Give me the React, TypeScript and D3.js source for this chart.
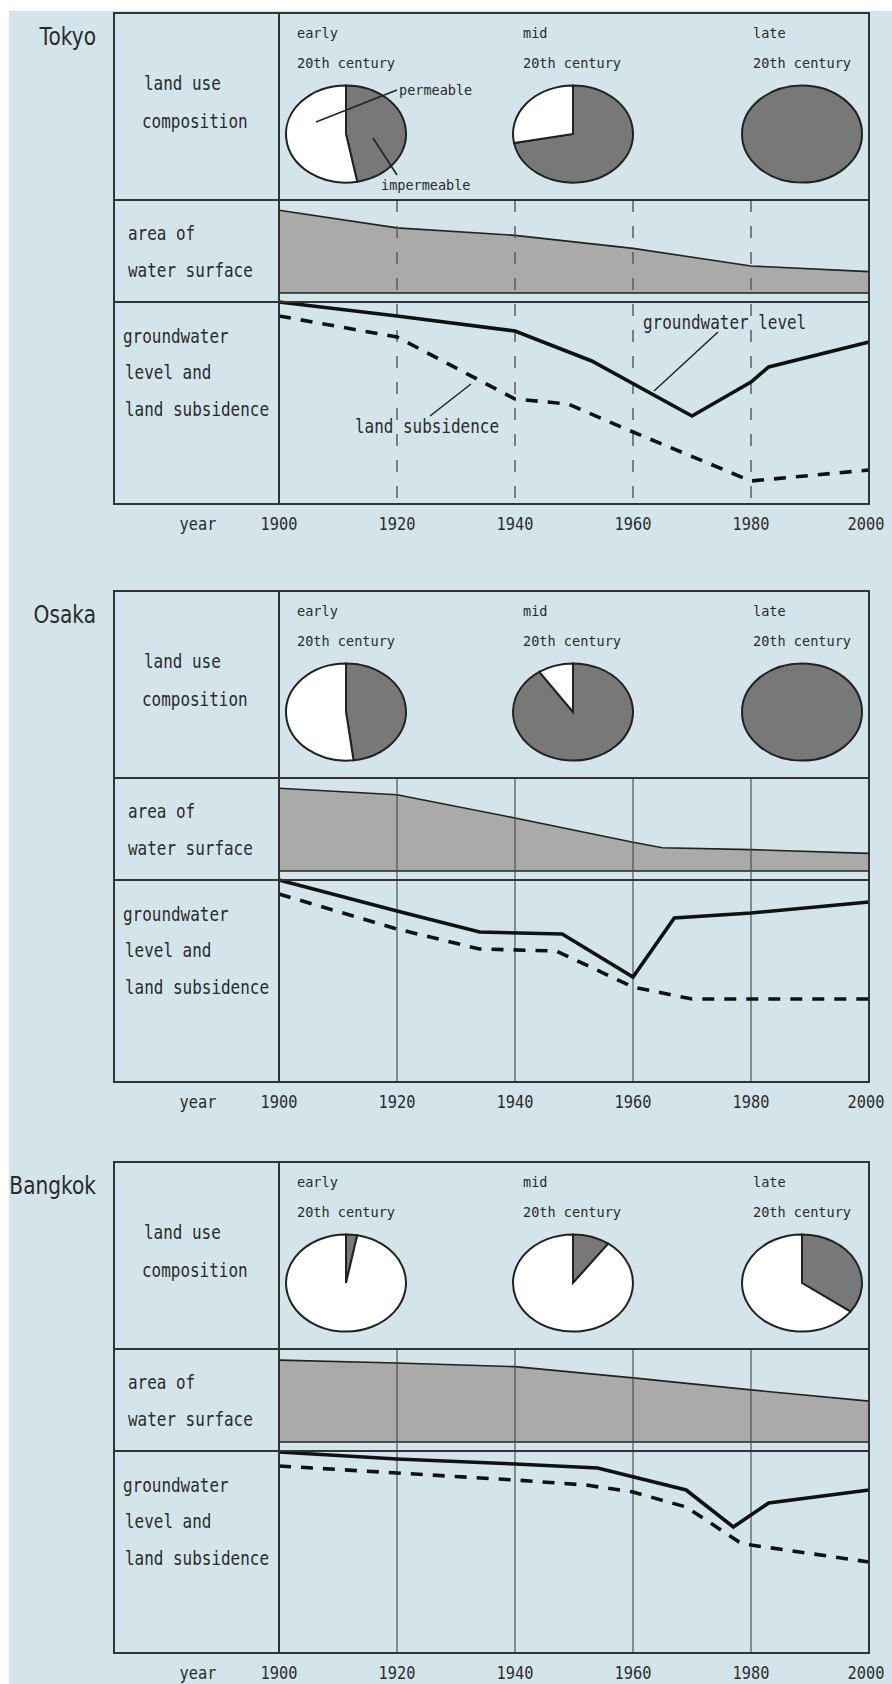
import React from 'react';
import * as d3 from 'd3';

// ---------- data ----------
const cities = ['Tokyo', 'Osaka', 'Bangkok'];
const periods = ['early', 'mid', 'late'];
const periodSub = '20th century';
const yearTicks = [1900, 1920, 1940, 1960, 1980, 2000];

// share of impermeable land (%) for early / mid / late 20th century
const tokyoImpermeable = [47, 72, 100];
const osakaImpermeable = [48, 90.5, 100];
const bangkokImpermeable = [3, 10, 35];

// area of water surface (relative index)
const tokyoWaterYears = [1900, 1920, 1940, 1960, 1980, 2000];
const tokyoWater = [89, 70, 62, 48, 29, 23];
const osakaWaterYears = [1900, 1920, 1940, 1960, 1965, 1980, 2000];
const osakaWater = [89, 82, 57, 31, 25, 23, 19];
const bangkokWaterYears = [1900, 1920, 1940, 1960, 1980, 2000];
const bangkokWater = [88, 85, 81, 69, 56, 44];

// groundwater level (relative index, 100 = top)
const tokyoGwYears = [1900, 1920, 1940, 1953, 1970, 1980, 1983, 2000];
const tokyoGw = [100, 93, 85.5, 70.5, 43, 60, 67.5, 80];
const osakaGwYears = [1900, 1920, 1934, 1948, 1960, 1967, 1980, 2000];
const osakaGw = [100, 84.5, 74, 73, 51.5, 81, 83.5, 89];
const bangkokGwYears = [1900, 1920, 1940, 1954, 1969, 1977, 1983, 2000];
const bangkokGw = [99.5, 96, 93.5, 91.5, 80.5, 62, 74, 80.5];

// land subsidence (relative index, 100 = top)
const tokyoSubYears = [1900, 1920, 1940, 1949, 1960, 1980, 2000];
const tokyoSub = [93, 82.5, 51.5, 49, 35, 10.5, 16];
const osakaSubYears = [1900, 1920, 1934, 1947, 1960, 1970, 2000];
const osakaSub = [93, 75.5, 65.5, 64.5, 46.5, 40.5, 40.5];
const bangkokSubYears = [1900, 1920, 1940, 1952, 1960, 1969, 1978, 1980, 2000];
const bangkokSub = [92.5, 89, 85.5, 83, 79.5, 72, 54.5, 53, 44.5];

// ---------- layout / style ----------
const W = 892, H = 1684;
const panelTops = [13, 591, 1162];
const X0 = 114, XD = 279, X1 = 869;
const LAND_H = 187, AREA_H = 102, GW_H = 202, BASE_GAP = 9;
const pieCx = [346, 573, 802];
const periodX = [297, 523, 753];

const BG = '#d3e5ea';
const DARK = '#787878';
const AREA = '#aaaaaa';
const INK = '#222';
const TEXT = '#2b2b2b';
const MONO = "'DejaVu Sans Mono', 'Liberation Mono', monospace";

type LabelProps = { x: number; y: number; text: string; size?: number; sx?: number; anchor?: string; family?: string };
function Label({ x, y, text, size = 19, sx = 0.84, anchor = 'start', family = MONO }: LabelProps) {
  return (
    <text
      transform={`translate(${x},${y}) scale(${sx},1)`}
      fontFamily={family}
      fontSize={size}
      textAnchor={anchor as any}
      dy="0.36em"
      fill={TEXT}
    >
      {text}
    </text>
  );
}

type PanelProps = {
  city: string;
  top: number;
  impermeable: number[];
  waterYears: number[];
  water: number[];
  gwYears: number[];
  gw: number[];
  subYears: number[];
  sub: number[];
  dashedGrid: boolean;
  annotate: boolean;
};

function Panel(p: PanelProps) {
  const { top } = p;
  const areaTop = top + LAND_H;
  const gwTop = areaTop + AREA_H;
  const bottom = gwTop + GW_H;

  const x = d3.scaleLinear().domain([1900, 2000]).range([XD, X1]);
  const yArea = d3.scaleLinear().domain([0, 100]).range([areaTop + AREA_H - BASE_GAP, areaTop]);
  const yGw = d3.scaleLinear().domain([0, 100]).range([gwTop + 200, gwTop]);

  const areaGen = d3
    .area<number>()
    .x((_, i) => x(p.waterYears[i]))
    .y0(yArea(0))
    .y1((d) => yArea(d));
  const waterLine = d3
    .line<number>()
    .x((_, i) => x(p.waterYears[i]))
    .y((d) => yArea(d));
  const gwLine = d3
    .line<number>()
    .x((_, i) => x(p.gwYears[i]))
    .y((d) => yGw(d));
  const subLine = d3
    .line<number>()
    .x((_, i) => x(p.subYears[i]))
    .y((d) => yGw(d));

  const pie = d3.pie<number>().sort(null).value((d) => d);
  const arc = d3.arc<d3.PieArcDatum<number>>().innerRadius(0).outerRadius(60);
  const pieCy = top + 121;

  const gridYears = yearTicks.slice(1, -1);
  const axisY = bottom + 20;

  return (
    <g>
      {/* city name */}
      <Label x={96} y={top + 23} text={p.city} size={24} sx={0.84} anchor="end" family="'DejaVu Sans', sans-serif" />

      {/* water area */}
      <path d={areaGen(p.water) || ''} fill={AREA} />
      <path d={waterLine(p.water) || ''} fill="none" stroke={INK} strokeWidth={1.6} />
      <line x1={XD} x2={X1} y1={yArea(0)} y2={yArea(0)} stroke={INK} strokeWidth={1.6} />

      {/* grid */}
      {gridYears.map((yr) => (
        <line
          key={yr}
          x1={x(yr)}
          x2={x(yr)}
          y1={areaTop}
          y2={bottom}
          stroke={p.dashedGrid ? '#555' : '#444'}
          strokeWidth={p.dashedGrid ? 1.4 : 1.1}
          strokeDasharray={p.dashedGrid ? '12,14' : undefined}
        />
      ))}

      {/* groundwater + subsidence */}
      <path d={gwLine(p.gw) || ''} fill="none" stroke="#111" strokeWidth={3.6} strokeLinejoin="miter" />
      <path d={subLine(p.sub) || ''} fill="none" stroke="#111" strokeWidth={3.6} strokeDasharray="12,10" />

      {/* pies */}
      {p.impermeable.map((v, i) => {
        const arcs = pie([v, 100 - v]);
        return (
          <g key={i} transform={`translate(${pieCx[i]},${pieCy}) scale(1,0.81)`}>
            {arcs
              .filter((a) => a.value > 0)
              .map((a, j) => (
                <path
                  key={j}
                  d={arc(a) || ''}
                  fill={a.index === 0 ? DARK : '#fff'}
                  stroke={INK}
                  strokeWidth={2}
                  vectorEffect="non-scaling-stroke"
                />
              ))}
          </g>
        );
      })}

      {/* period labels */}
      {periods.map((per, i) => (
        <g key={per}>
          <Label x={periodX[i]} y={top + 20} text={per} size={14} sx={0.97} />
          <Label x={periodX[i]} y={top + 50} text={periodSub} size={14} sx={0.97} />
        </g>
      ))}

      {/* Tokyo-only annotations */}
      {p.annotate && (
        <g>
          <line x1={pieCx[0] - 30} y1={pieCy - 12} x2={pieCx[0] + 51} y2={top + 77} stroke={INK} strokeWidth={1.6} />
          <Label x={399} y={top + 77} text="permeable" size={13.5} sx={1} />
          <line x1={pieCx[0] + 27} y1={pieCy + 4} x2={pieCx[0] + 51} y2={top + 162} stroke={INK} strokeWidth={1.6} />
          <Label x={381} y={top + 172} text="impermeable" size={13.5} sx={1} />

          <line x1={718} y1={gwTop + 30} x2={654} y2={gwTop + 89} stroke={INK} strokeWidth={1.5} />
          <Label x={643} y={gwTop + 20} text="groundwater level" />
          <line x1={430} y1={gwTop + 114} x2={471} y2={gwTop + 82} stroke={INK} strokeWidth={1.5} />
          <Label x={355} y={gwTop + 124} text="land subsidence" />
        </g>
      )}

      {/* frame */}
      <rect x={X0} y={top} width={X1 - X0} height={bottom - top} fill="none" stroke="#333" strokeWidth={2} />
      <line x1={XD} x2={XD} y1={top} y2={bottom} stroke="#333" strokeWidth={2} />
      <line x1={X0} x2={X1} y1={areaTop} y2={areaTop} stroke="#333" strokeWidth={2} />
      <line x1={X0} x2={X1} y1={gwTop} y2={gwTop} stroke="#333" strokeWidth={2} />

      {/* row labels */}
      <Label x={144} y={top + 70} text="land use" />
      <Label x={142} y={top + 108} text="composition" />
      <Label x={128} y={areaTop + 33} text="area of" />
      <Label x={128} y={areaTop + 70} text="water surface" />
      <Label x={123} y={gwTop + 34} text="groundwater" />
      <Label x={125} y={gwTop + 70} text="level and" />
      <Label x={125} y={gwTop + 107} text="land subsidence" />

      {/* year axis */}
      <Label x={198} y={axisY} text="year" size={17} sx={0.9} anchor="middle" />
      {yearTicks.map((yr) => (
        <Label key={yr} x={Math.min(x(yr), 866)} y={axisY} text={String(yr)} size={17} sx={0.9} anchor="middle" />
      ))}
    </g>
  );
}

export default function App() {
  const impermeables = [tokyoImpermeable, osakaImpermeable, bangkokImpermeable];
  const waterYears = [tokyoWaterYears, osakaWaterYears, bangkokWaterYears];
  const waters = [tokyoWater, osakaWater, bangkokWater];
  const gwYears = [tokyoGwYears, osakaGwYears, bangkokGwYears];
  const gws = [tokyoGw, osakaGw, bangkokGw];
  const subYears = [tokyoSubYears, osakaSubYears, bangkokSubYears];
  const subs = [tokyoSub, osakaSub, bangkokSub];

  return (
    <svg
      width={W}
      height={H}
      viewBox={`0 0 ${W} ${H}`}
      style={{ position: 'absolute', left: 0, top: 0, display: 'block' }}
    >
      <rect x={0} y={0} width={W} height={H} fill="#fff" />
      <rect x={9} y={11} width={W - 9} height={H - 11} fill={BG} />
      {cities.map((c, i) => (
        <Panel
          key={c}
          city={c}
          top={panelTops[i]}
          impermeable={impermeables[i]}
          waterYears={waterYears[i]}
          water={waters[i]}
          gwYears={gwYears[i]}
          gw={gws[i]}
          subYears={subYears[i]}
          sub={subs[i]}
          dashedGrid={i === 0}
          annotate={i === 0}
        />
      ))}
    </svg>
  );
}
